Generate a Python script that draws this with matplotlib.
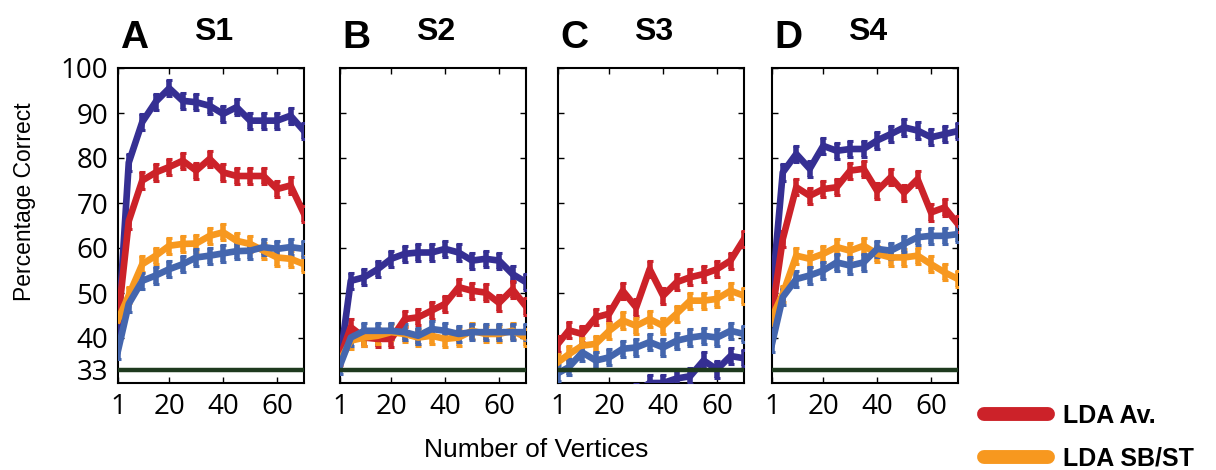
import matplotlib
matplotlib.use('Agg')
import matplotlib.pyplot as plt
from matplotlib.lines import Line2D

# vertices sampled
x = [1, 5, 10, 15, 20, 25, 30, 35, 40, 45, 50, 55, 60, 65, 70]

# S1
a_dark = [41, 79, 88, 92.5, 95.5, 92.7, 92.4, 91.6, 89.8, 91.3, 88.3, 88.3, 88.3, 89.4, 86]
a_red = [44, 66, 75, 76.8, 78, 79.4, 77.2, 79.8, 76.8, 76, 76, 76, 73.1, 73.9, 67.6]
a_orange = [44, 49.5, 56.4, 58.3, 60.5, 60.9, 61, 62.7, 63.5, 61.6, 60.9, 59.4, 57.9, 57.6, 56.4]
a_light = [37.2, 47.6, 52.7, 53.9, 55.3, 56.4, 57.9, 58.3, 58.8, 59.3, 59.4, 60.2, 59.8, 60.2, 59.8]
# S2
b_dark = [35, 52.7, 53.5, 55.3, 57.6, 58.7, 59, 59, 59.8, 59, 57.2, 57.6, 57.2, 54.2, 52.4]
b_red = [35.7, 42.4, 40.1, 39.8, 39.8, 44.2, 44.6, 46.1, 47.6, 51.3, 50.5, 50.1, 47.8, 50.8, 47]
b_orange = [35, 39.4, 40.1, 40.5, 41.3, 40.9, 40.1, 40.5, 39.8, 40.1, 41.6, 40.9, 40.9, 41.6, 40.1]
b_light = [33.9, 40.1, 41.6, 41.6, 41.6, 41.3, 40.5, 42, 41.6, 40.9, 41.3, 41.3, 41.3, 41.3, 41.3]
# S3
c_dark = [24, 25, 26, 26, 27, 27, 28, 30, 30, 31, 31.5, 35, 33, 36, 35.5]
c_red = [38.7, 41.7, 40.9, 44.6, 45.4, 50.5, 46.8, 55.3, 49.4, 52.4, 53.5, 54.2, 55.3, 57.2, 62]
c_orange = [34.6, 36.4, 38.3, 38.7, 41.6, 43.9, 42.7, 44.2, 42.7, 45.4, 48.3, 48.3, 48.7, 50.5, 49.4]
c_light = [32.2, 33.5, 36.8, 35, 35.7, 37.6, 37.9, 39.1, 37.9, 39.4, 40.1, 40.5, 40.1, 41.6, 40.9]
# S4
d_dark = [49.8, 76.8, 80.9, 77.6, 82.7, 81.6, 82, 82, 83.9, 85.3, 86.8, 86.1, 84.6, 85.3, 86]
d_red = [45.3, 62, 73.5, 71.6, 73.1, 73.5, 77.2, 77.6, 72.7, 75.7, 72.3, 75.3, 67.9, 69, 65.3]
d_orange = [44.6, 49.8, 58.3, 57.6, 58.7, 60.2, 59.4, 60.5, 58.7, 57.9, 57.9, 58.3, 56.4, 54.6, 53.1]
d_light = [38.7, 49.1, 53.1, 53.9, 55, 56.8, 56.1, 56.8, 59.8, 59.4, 60.9, 62.4, 62.7, 62.7, 63.1]

err = 1.8
chance = 33
letters = ['A', 'B', 'C', 'D']
subjects = ['S1', 'S2', 'S3', 'S4']
panels = [(a_dark, a_red, a_orange, a_light), (b_dark, b_red, b_orange, b_light),
          (c_dark, c_red, c_orange, c_light), (d_dark, d_red, d_orange, d_light)]
colors = ['#352F93', '#CC2229', '#F7981F', '#4466AE']
yticks = [33, 40, 50, 60, 70, 80, 90, 100]
xticks = [1, 20, 40, 60]
lefts = [118, 340, 558, 772]

tickfont = ['Open Sans', 'DejaVu Sans']
labfont = ['Liberation Sans', 'DejaVu Sans']
boldfont = ['Liberation Sans', 'DejaVu Sans']

W, H = 1216, 470
fig = plt.figure(figsize=(W/100, H/100), dpi=100)
for k in range(4):
    ax = fig.add_axes([lefts[k]/W, 1-383/H, 186/W, 315/H])
    for s, c in zip(panels[k], colors):
        ax.errorbar(x, s, yerr=err, color=c, lw=4.8, elinewidth=4,
                    capsize=2.5, capthick=2.2, zorder=3)
    ax.axhline(chance, color='#1E3A1E', lw=3.2, zorder=4)
    ax.set_xlim(1, 70); ax.set_ylim(30, 100)
    ax.set_xticks(xticks); ax.set_yticks(yticks)
    ax.tick_params(direction='in', length=4, width=1, top=True, right=True, pad=7)
    for lab in ax.get_xticklabels() + ax.get_yticklabels():
        lab.set_family(tickfont); lab.set_fontsize(20)
    if k > 0: ax.set_yticklabels([])
    for sp in ax.spines.values(): sp.set_linewidth(1.5)
    ax.text(0.086, 1.063, letters[k], transform=ax.transAxes, ha='center', va='baseline',
            fontsize=28, weight='bold', family=boldfont)
    ax.text(0.516, 1.089, subjects[k], transform=ax.transAxes, ha='center', va='baseline',
            fontsize=23, weight='bold', family=boldfont)

fig.text(25/W, 1-202/H, 'Percentage Correct', rotation=90, ha='center', va='center',
         fontsize=16.5, family=labfont)
fig.text(536/W, 1-450/H, 'Number of Vertices', ha='center', va='center',
         fontsize=19, family=labfont)

h = [Line2D([], [], color=colors[1], lw=10, solid_capstyle='round'),
     Line2D([], [], color=colors[2], lw=10, solid_capstyle='round')]
fig.legend(h, ['LDA Av.', 'LDA SB/ST'], loc='upper left', bbox_to_anchor=(984/W, 1-404/H),
           frameon=False, handlelength=2.55, labelspacing=0.75, handletextpad=0.62,
           borderpad=0, borderaxespad=0,
           prop={'family': boldfont, 'weight': 'bold', 'size': 18})
fig.savefig('out.png', dpi=100)
